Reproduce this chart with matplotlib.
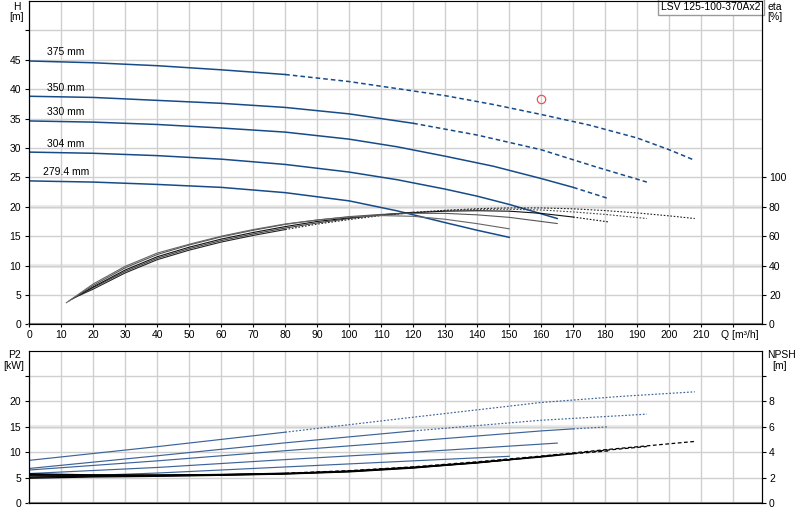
import numpy as np
import matplotlib
matplotlib.use('Agg')
import matplotlib.pyplot as plt

plt.rcParams['font.family'] = ['Liberation Sans', 'DejaVu Sans']
plt.rcParams['font.size'] = 7.5

pump_name = "LSV 125-100-370Ax2"
diameters = ['375', '350', '330', '304', '279.4']

# head curves H [m] vs Q [m3/h]
q_h375 = [0, 20, 40, 60, 80, 100, 115, 130, 145, 160, 175, 190, 200, 208]
h_375 = [44.8, 44.5, 44.0, 43.3, 42.5, 41.3, 40.1, 38.9, 37.4, 35.7, 33.9, 31.7, 29.7, 27.9]
q_h350 = [0, 20, 40, 60, 80, 100, 120, 140, 160, 177, 193]
h_350 = [38.8, 38.6, 38.1, 37.6, 36.9, 35.8, 34.2, 32.2, 29.7, 26.8, 24.2]
q_h330 = [0, 20, 40, 60, 80, 100, 115, 130, 145, 160, 170, 181]
h_330 = [34.6, 34.4, 34.0, 33.4, 32.7, 31.5, 30.2, 28.6, 26.9, 24.8, 23.3, 21.4]
q_h304 = [0, 20, 40, 60, 80, 100, 115, 130, 140, 150, 165]
h_304 = [29.3, 29.1, 28.7, 28.1, 27.2, 25.9, 24.6, 23.0, 21.8, 20.4, 18.0]
q_h279 = [0, 20, 40, 60, 80, 100, 115, 130, 140, 150]
h_279 = [24.4, 24.2, 23.8, 23.3, 22.4, 21.0, 19.3, 17.3, 16.0, 14.8]

# efficiency eta [%]
q_e375 = [15.5, 20, 30, 40, 50, 60, 70, 80, 90, 100, 110, 120, 130, 140, 150, 160, 170, 180, 190, 200, 208]
e_375 = [19.5, 24, 35, 44, 50.5, 56, 60.5, 64.5, 68.2, 71.3, 74, 76, 77.6, 78.7, 79.2, 79.2, 78.6, 77.4, 75.8, 73.8, 72]
q_e350 = [14.5, 20, 30, 40, 50, 60, 70, 80, 90, 100, 110, 120, 130, 140, 150, 160, 170, 180, 193]
e_350 = [18.5, 25, 36, 45, 51.5, 57, 61.5, 65.5, 69, 72, 74.5, 76.3, 77.5, 78.2, 78.3, 77.8, 76.5, 74.8, 72]
q_e330 = [13.5, 20, 30, 40, 50, 60, 70, 80, 90, 100, 110, 120, 130, 140, 150, 160, 170, 181]
e_330 = [17.3, 25.5, 37, 46, 52.5, 58, 62.5, 66.5, 70, 72.5, 74.5, 76, 77, 77.3, 77, 75.5, 73, 69.7]
q_e304 = [12.5, 20, 30, 40, 50, 60, 70, 80, 90, 100, 110, 120, 130, 140, 150, 165]
e_304 = [16, 26.5, 38.5, 47.5, 54, 59.5, 64, 68, 71, 73.3, 74.8, 75.6, 75.5, 74.5, 72.8, 68.6]
q_e279 = [11.6, 20, 30, 40, 50, 60, 70, 80, 90, 100, 110, 120, 130, 140, 150]
e_279 = [14.7, 27.5, 39.5, 48.5, 54.5, 60, 64.5, 68.3, 71, 73, 74, 73.5, 71.5, 68.5, 65]

# shaft power P2 [kW]
q_p375 = [0, 40, 80, 120, 160, 185, 208]
p_375 = [8.4, 11.1, 13.95, 16.9, 19.8, 21.0, 21.9]
q_p350 = [0, 40, 80, 120, 160, 193]
p_350 = [6.8, 9.3, 11.85, 14.2, 16.3, 17.5]
q_p330 = [0, 40, 80, 120, 160, 170, 181]
p_330 = [6.5, 8.3, 10.3, 12.2, 14.2, 14.6, 15.0]
q_p304 = [0, 40, 80, 120, 165]
p_304 = [5.8, 7.0, 8.55, 10.0, 11.8]
q_p279 = [0, 40, 80, 120, 150]
p_279 = [5.0, 5.9, 7.1, 8.3, 9.2]

# NPSH [m]
q_n375 = [0, 20, 40, 60, 80, 100, 120, 140, 160, 180, 208]
n_375 = [2.25, 2.2, 2.2, 2.25, 2.35, 2.55, 2.85, 3.25, 3.7, 4.2, 4.85]
q_n350 = [0, 20, 40, 60, 80, 100, 120, 140, 160, 180, 193]
n_350 = [2.3, 2.22, 2.2, 2.24, 2.33, 2.52, 2.82, 3.2, 3.65, 4.15, 4.45]
q_n330 = [0, 20, 40, 60, 80, 100, 120, 140, 160, 170, 181]
n_330 = [2.15, 2.15, 2.17, 2.22, 2.32, 2.5, 2.8, 3.18, 3.62, 3.88, 4.1]
q_n304 = [0, 20, 40, 60, 80, 100, 120, 140, 165]
n_304 = [2.05, 2.1, 2.14, 2.2, 2.3, 2.48, 2.78, 3.15, 3.8]
q_n279 = [0, 20, 40, 60, 80, 100, 120, 150]
n_279 = [1.95, 2.05, 2.1, 2.18, 2.28, 2.45, 2.75, 3.4]

duty_q = [160]
duty_h = [38.3]

head = {'375': (q_h375, h_375), '350': (q_h350, h_350), '330': (q_h330, h_330),
        '304': (q_h304, h_304), '279.4': (q_h279, h_279)}
eta = {'375': (q_e375, e_375), '350': (q_e350, e_350), '330': (q_e330, e_330),
       '304': (q_e304, e_304), '279.4': (q_e279, e_279)}
power = {'375': (q_p375, p_375), '350': (q_p350, p_350), '330': (q_p330, p_330),
         '304': (q_p304, p_304), '279.4': (q_p279, p_279)}
npsh = {'375': (q_n375, n_375), '350': (q_n350, n_350), '330': (q_n330, n_330),
        '304': (q_n304, n_304), '279.4': (q_n279, n_279)}

# flow where curve turns from solid to broken
split_q = {'375': 80, '350': 120, '330': 170}

BLUE = '#174b88'
GRID = '#d0d0d0'


def split_plot(axis, q, v, split, dash, **kw):
    q = np.asarray(q, float)
    v = np.asarray(v, float)
    if split is None:
        axis.plot(q, v, **kw)
        return
    i = int(np.searchsorted(q, split))
    axis.plot(q[:i + 1], v[:i + 1], **kw)
    axis.plot(q[i:], v[i:], linestyle=dash, **kw)


def style_axes(axis):
    axis.set_xlim(0, 229)
    axis.set_xticks(range(0, 230, 10))
    axis.grid(True, color=GRID, lw=1)
    axis.set_axisbelow(True)
    axis.spines['left'].set_color('black')
    axis.spines['right'].set_color('black')
    axis.spines['top'].set_color('#a0a0a0')
    axis.spines['bottom'].set_color('#808080')
    axis.spines['bottom'].set_linewidth(1.5)
    axis.tick_params(axis='y', length=3, pad=3)


def ftext(x, y, s, ha='center'):
    # x, y in pixels from the top-left corner, y is the baseline
    fig.text(x / 800, 1 - y / 520, s, ha=ha, va='baseline')


fig = plt.figure(figsize=(8, 5.2), dpi=100)

# ---- top: head + efficiency
ax = fig.add_axes([0.0366, 0.3763, 0.9159, 0.6217])
style_axes(ax)
ax.set_ylim(0, 55)
ax.set_yticks(range(0, 55, 5))
ax.set_yticklabels([str(v) for v in range(0, 50, 5)] + [''])
ax.set_xticklabels([str(v) for v in range(0, 220, 10)] + [''])
ax.tick_params(axis='x', length=2, pad=2)
for y in (10, 20):
    ax.axhline(y, color='#ebebeb', lw=3, zorder=0.4)

for d in diameters:
    q, h = head[d]
    split_plot(ax, q, h, split_q.get(d), (0, (3, 2)), color=BLUE, lw=1.1)
    lx = 4.2 if d == '279.4' else 5.4
    ax.text(lx, h[0] + 1.45, d + ' mm', ha='left', va='center', fontsize=7.5)

ax.plot(duty_q, duty_h, 'o', mfc='none', mec='#e5555a', ms=6, mew=0.9)

ax.text(0.9985, 0.998, pump_name, transform=ax.transAxes, ha='right', va='top',
        fontsize=7.5, bbox=dict(boxstyle='square,pad=0.3', fc='white', ec='#999999', lw=1))

ax2 = ax.twinx()
ax2.set_ylim(0, 220)
ax2.set_yticks(range(0, 101, 20))
ax2.spines['right'].set_color('black')
ax2.tick_params(axis='y', length=3, pad=2)
eta_col = {'375': '#222222', '350': '#444444', '330': '#111111', '304': '#555555', '279.4': '#666666'}
for d in diameters:
    q, e = eta[d]
    split_plot(ax2, q, e, split_q.get(d), (0, (1.5, 1.5)), color=eta_col[d], lw=0.8)

ftext(16.5, 9.5, 'H')
ftext(17, 19.5, '[m]')
ftext(767, 9.5, 'eta', ha='left')
ftext(767, 19.5, '[%]', ha='left')
ftext(740, 337.5, 'Q [m\u00b3/h]')

# ---- bottom: power + NPSH
axb = fig.add_axes([0.0366, 0.0327, 0.9159, 0.2929])
style_axes(axb)
axb.set_ylim(0, 30)
axb.set_yticks(range(0, 30, 5))
axb.set_yticklabels([str(v) for v in range(0, 25, 5)] + [''])
axb.tick_params(axis='x', length=0, labelbottom=False)
axb.axhline(15, color='#ebebeb', lw=3, zorder=0.4)
for d in diameters:
    q, p = power[d]
    split_plot(axb, q, p, split_q.get(d), (0, (1.5, 1.5)), color='#3d6398', lw=0.85)

axn = axb.twinx()
axn.set_ylim(0, 12)
axn.set_yticks(range(0, 12, 2))
axn.set_yticklabels([str(v) for v in range(0, 10, 2)] + [''])
axn.spines['right'].set_color('black')
axn.tick_params(axis='y', length=3, pad=2)
for d in diameters:
    q, n = npsh[d]
    split_plot(axn, q, n, split_q.get(d), (0, (3, 2)), color='black', lw=0.9)

ftext(14, 358.5, 'P2')
ftext(13.5, 369, '[kW]')
ftext(781, 358.5, 'NPSH')
ftext(780, 369, '[m]')

fig.savefig('out.png', dpi=100)
